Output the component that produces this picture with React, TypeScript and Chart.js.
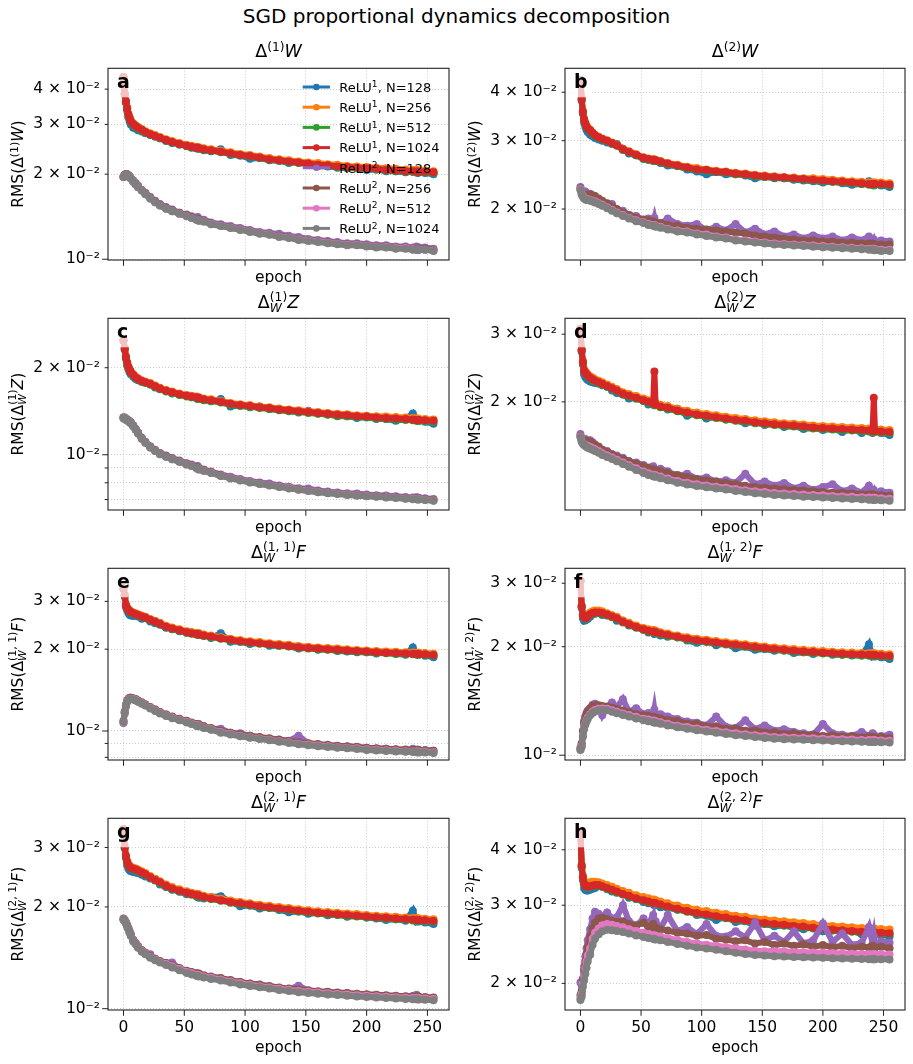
import React, { useEffect, useRef } from 'react';
import { Chart, registerables } from 'chart.js';

Chart.register(...registerables);

const FONT = '"DejaVu Sans", "Liberation Sans", sans-serif';
// series values below are given in units of 1e-4
const UNIT = 1e-4;

const EPOCHS = [0, 1, 2, 3, 4, 5, 6, 8, 10, 12, 15, 18, 22, 26, 30, 35, 40, 46, 52, 56, 60, 61, 62, 66, 72, 80, 88, 96, 104, 112, 120, 128, 136, 144, 152, 160, 168, 176, 184, 192, 200, 208, 216, 224, 232, 238, 241, 242, 243, 248, 255];

const SERIES_NAMES = ['ReLU¹, N=128', 'ReLU¹, N=256', 'ReLU¹, N=512', 'ReLU¹, N=1024', 'ReLU², N=128', 'ReLU², N=256', 'ReLU², N=512', 'ReLU², N=1024'];
const LEGEND_ACT = ['1', '1', '1', '1', '2', '2', '2', '2'];
const LEGEND_N = ['128', '256', '512', '1024', '128', '256', '512', '1024'];
const COLORS = ['#1f77b4', '#ff7f0e', '#2ca02c', '#d62728', '#9467bd', '#8c564b', '#e377c2', '#7f7f7f'];
const X_TICKS = [0, 50, 100, 150, 200, 250];
const X_MIN = -12.75;
const X_MAX = 267.75;

// ---------- panel a ----------
const A_R1_128 = [440,383,358,336,318,308,300, 292,290,286,283,279,275,272,268,262,258,255,252,248, 247,249,246,243, 241,245,234,233,227,228,224,223,219,221,216, 214,213,211,210,210,207,208,205,205,203, 204,203,202,203,202,200];
const A_R1_256 = [441,386,364,345,328,318,310, 303,298,294,289,284,279,275,271,266,262,258,254,252, 250,249,249,247, 245,242,239,236,234,231,228,226,224,222,220, 219,217,216,214,213,212,211,210,209,208, 207,207,207,206,206,205];
const A_R1_512 = [441,384,360,340,323,314,306, 299,294,290,285,281,276,272,268,263,259,255,251,249, 247,247,246,244, 242,239,236,233,231,228,225,223,221,219,217, 215,214,212,211,210,209,208,206,205,204, 204,204,203,203,203,202];
const A_R1_1024 = [442,385,362,342,325,316,308, 301,296,292,287,282,277,273,269,264,260,256,252,250, 248,248,247,245, 243,240,237,234,232,229,226,224,222,220,218, 216,215,213,212,211,210,209,207,206,205, 205,205,204,204,204,203];
const A_R2_128 = [195,199,200,200,198,197,194, 190,186,182,176,172,166,161,157,153,150,146,144,142, 140,141,139,138, 135,133,131,129,127,125,124,123,121,120,118, 117,116,115,114,114,113,112,112,111,111, 110,111,110,110,110,109];
const A_R2_256 = [196,199,200,200,198,196,194, 189,185,181,176,171,165,160,156,152,149,146,143,141, 139,139,138,137, 134,132,130,128,126,124,123,121,120,118,117, 116,115,114,113,113,112,111,111,110,110, 109,109,109,109,109,108];
const A_R2_512 = [196,198,199,199,197,195,193, 188,184,180,175,170,164,159,155,151,148,145,142,140, 138,138,137,136, 133.5,131.5,129.5,127.5,125.5,123.5,122.5,120.5,119.5,117.5,116.5, 115.5,114.5,113.5,112.5,112.5,111.5,110.5,110.5,109.5,109.5, 108.5,108,108,108,108,107.5];
const A_R2_1024 = [196,198,199,199,197,195,193, 188,184,180,175,170,164,159,155,151,148,145,142,140, 138,138,137,136, 133,131,129,127,125,123,122,120,119,117,116, 115,114,113,112,112,111,110,110,109,109, 108,108,108,108,108,107];

// ---------- panel b ----------
const B_R1_128 = [428,380,352,334,326,320,316, 311,308,305,302,300,297,294,294,286,278,275,269,268, 266,268,266,263, 259,258,253,250,246,249,246,246,244,240,242, 240,240,238,237,236,234,235,233,231,232, 236,231,230,231,230,228];
const B_R1_256 = [431,386,358,342,334,328,324, 320,315,311,307,304,301,297,293,286,282,277,272,270, 269,268,268,266, 263,260,257,255,253,251,250,248,247,245,244, 243,242,241,240,240,239,238,237,236,235, 234,234,234,234,234,233];
const B_R1_512 = [430,383,355,339,331,326,322, 318,313,309,305,302,299,295,291,284,280,275,270,268, 267,266,266,264, 261,258,255,252,251,249,248,246,245,243,242, 241,240,239,238,237,236,235,234,233,232, 231,231,231,231,231,230];
const B_R1_1024 = [430,384,356,340,332,327,323, 319,314,310,306,303,300,296,292,285,281,276,271,269, 268,267,267,265, 262,259,256,253,252,250,249,247,246,244,243, 242,241,240,239,238,237,236,235,234,233, 232,232,232,232,232,231];
const B_R2_128 = [228,222,219,221,222,220,218, 219,215,214,211,209,206,206,199,198,193,192,187,189, 185,190,184,183, 189,183,181,183,176,180,176,183,174,178,172, 175,170,172,168,171,168,170,166,169,166, 170,165,167,164,166,165];
const B_R2_256 = [226,220,217,216,216,217,218, 218,217,216,213,210,207,203,200,196,193,190,188,187, 186,185,185,184, 182,181,179,178,177,176,175,174,173,171,170, 169,168,167,166,166,165,165,164,164,163, 163,163,162,162,162,162];
const B_R2_512 = [225,219,216,214,213,212,212, 211,210,209,207,205,202,199,196,193,190,187,185,183, 182,182,181,180, 178,176,175,173,172,170,169,167,166,165,164, 163,162.5,162,161.5,161,160.5,160,159.5,159,158.5, 158,158,158,157.5,157,157];
const B_R2_1024 = [224,218,215,213,212,211,211, 210,209,208,206,204,201,198,195,192,189,186,184,182, 181,181,180,179, 177,175,174,172,170.5,169,168,166,165,164,163, 162,161.5,161,160.5,160,159.5,159,158.5,158,157.5, 157,157,157,156.5,156,156];

// ---------- panel c ----------
const C_R1_128 = [248,231,215,204,198,193,190, 186,183,181,179,178,175,171,169,167,163,162,160,158, 157,156,156,155, 153,156,147,148,146,147,144,143,142,140,142, 139,138,136,136,134,135,133,133,131,133, 139,132,131,131,130,128];
const C_R1_256 = [249,234,219,209,202,198,194, 190,186,184,181,179,177,173.5,170.5,167.5,165.5,163,161,160, 159,158.5,158,156.5, 155.5,153.5,151,149.5,148.5,147,146,144.5,143.5,142.5,141.5, 140.5,139.5,138.5,138,137,136.5,136,135.5,135,134.5, 134,133.5,133.5,133,133,132.5];
const C_R1_512 = [249,232,217,207,200,196,192, 188,184,182,179,177,175,171.5,168.5,165.5,163.5,161,159,158, 157,156.5,156,154.5, 153.5,151.5,149,147.5,146.5,145,144,142.5,141.5,140.5,139.5, 138.5,137.5,136.5,136,135,134.5,133.5,133,132.5,132, 131.5,131,131,131,130.5,130];
const C_R1_1024 = [249,233,218,208,201,197,193, 189,185,183,180,178,176,172.5,169.5,166.5,164.5,162,160,159, 158,157.5,157,155.5, 154.5,152.5,150,148.5,147.5,146,145,143.5,142.5,141.5,140.5, 139.5,138.5,137.5,137,136,135.5,134.5,134,133.5,133, 132.5,132,132,132,131.5,131];
const C_R2_128 = [133.5,134.5,133.5,132.5,131.5,130.5,129.5, 126.5,123,119.5,114.5,111,107,104,101.5,99.5,97.5,95.5,93.5,92.5, 91,91.5,90,89, 87.5,85.5,84,82.5,81.2,80.2,79.5,78.3,77.5,76.6,76.5, 75.2,74.6,74.1,73.6,73.4,72.8,72.5,72.3,71.8,71.4, 71.2,71.3,71,71,70.7,70.3];
const C_R2_256 = [134.5,133.5,132.5,132,131,130,129, 126,122.5,119,114,110.5,106.5,103.5,101,99,97,95,93,92, 90.5,90,89.5,88.5, 87,85,83.3,82,80.7,79.7,78.7,77.8,77,76.1,75.4, 74.7,74.1,73.6,73.1,72.7,72.3,72,71.6,71.3,70.9, 70.7,70.6,70.5,70.5,70.2,69.8];
const C_R2_512 = [134.5,133.5,132.5,131.5,130.5,129.5,128.5, 125.5,122,118.5,113.5,110,106,103,100.5,98.5,96.5,94.5,92.5,91.5, 90,89.5,89,88, 86.6,84.6,83,81.6,80.4,79.4,78.4,77.5,76.7,75.8,75.1, 74.4,73.8,73.3,72.8,72.4,72,71.7,71.3,71,70.6, 70.4,70.3,70.2,70.2,69.9,69.5];
const C_R2_1024 = [134.5,133.5,132.5,131.5,130.5,129.5,128.5, 125.5,122,118.5,113.5,110,106,103,100.5,98.5,96.5,94.5,92.5,91.5, 90,89.5,89,88, 86.5,84.5,82.8,81.5,80.2,79.2,78.2,77.3,76.5,75.6,74.9, 74.2,73.6,73.1,72.6,72.2,71.8,71.5,71.1,70.8,70.4, 70.2,70.1,70,70,69.7,69.3];

// ---------- panel d ----------
const D_R1_128 = [308,270,250,236,232,230,228, 226,225,224,223,221,219,214,211,209,204,204,201,197, 198,196,197,195, 191,192,184,187,181,183,180,179,176,178,174, 176,172,173,170,171,169,170,167,170,166, 169,166,167,168,166,164];
const D_R1_256 = [310,274,256,243,240,238,236, 233,231,229,227,225,222,219,216,212,209.5,207,204,202, 200,199.5,199,196.5, 195,192,189.5,187.5,186,184.5,183,181.5,180.5,179,178, 177,176,175.5,174.5,173.5,173,172.5,172,171.5,171, 170.5,170,170,170,169.5,169];
const D_R1_512 = [309,272,253,240,237,235,233, 230,228,226,224,222,219,216,213,209,206.5,204,201,199, 197,196.5,196,193.5, 192,189,186.5,184.5,183,181.5,180,178.5,177.5,176,175, 174,173,172.5,171.5,170.5,170,169.5,169,168.5,168, 167.5,167,167,167,166.5,166];
const D_R1_1024 = [310,273,254,241,238,236,234, 231,229,227,225,223,220,217,214,210,207.5,205,202,200, 198,240,197,194.5, 193,190,187.5,185.5,184,182.5,181,179.5,178.5,177,176, 175,174,173.5,172.5,171.5,171,170.5,170,169.5,169, 168.5,168,205,168,167.5,167];
const D_R2_128 = [165,160,158,159,160,158,157, 159,157,155,153,150,149,146,145,143,140,139,137,135, 136,133,132,134, 132,128,130,126,127,124,125,123,130,122,124, 121,123,119,121,118,120,122,117,119,116, 121,117,118,116,117,116];
const D_R2_256 = [163,159,157,157,158,158.5,158, 157.5,156,154.5,152.5,150,148,146,144,142,140,138,136,134.5, 133.5,133,133,132, 130.5,129,127.5,126,125,124,123,122,121,120,119.5, 119,118.5,118,117.5,117,116.5,116,116,115.5,115, 115,115,114.5,114.5,114.3,114];
const D_R2_512 = [162.5,158,156,155,154.5,154,153.5, 152.5,151.5,150.5,149,147,145,143.3,141.3,139,136.8,134.3,131.8,130.3, 129.3,129,128.8,127.8, 126.3,124.5,123.1,122,121.1,120.3,119.5,118.6,117.8,117,116.5, 115.9,115.5,115.1,114.7,114.4,114.2,113.8,113.5,113.2,112.9, 112.7,112.6,112.6,112.5,112.3,111.9];
const D_R2_1024 = [162,157.5,155.5,154.5,153.5,152.8,152, 151,150,149,147.5,145.5,143.8,142,140,137.8,135.5,133,130.5,129, 128,127.8,127.6,126.5, 125,123.2,121.8,120.7,119.8,119,118.2,117.3,116.5,115.6,115.1, 114.5,114.1,113.7,113.3,113,112.8,112.4,112.1,111.8,111.5, 111.3,111.2,111.2,111.1,110.9,110.5];

// ---------- panel e ----------
const E_R1_128 = [333,312,286,278,272,268,266, 265,266,264,259,260,253,249,246,240,237,233,230,231, 228,227,229,226, 220,229,213,213,209,211,206,206,205,201,203, 199,200,197,196,195,195,193,194,192,191, 203,192,191,192,189,187];
const E_R1_256 = [335,317,292,285,280.5,278,276, 273,271,269,266,263.5,258.5,254.5,250,244,240.5,237,233,231, 229.5,229,228.5,226.5, 224.5,221.5,218.5,216,214,212.5,210.5,209,207.5,205.5,204, 203,202,201,199.8,198.8,198,197,196.2,195.6,195, 194.5,194.2,194.1,194,193.5,192.5];
const E_R1_512 = [334,315,289,282,277.5,275,273, 270,268,266,263,260.5,255.5,251.5,247,241,237.5,234,230,228, 226.5,226,225.5,223.5, 221.5,218.5,215.5,213,211,209.5,207.5,206,204.5,202.5,201, 200,199,198,196.8,195.8,195,194,193.2,192.6,192, 191.5,191.2,191.1,191,190.5,189.5];
const E_R1_1024 = [335,316,290,283,278.5,276,274, 271,269,267,264,261.5,256.5,252.5,248,242,238.5,235,231,229, 227.5,227,226.5,224.5, 222.5,219.5,216.5,214,212,210.5,208.5,207,205.5,203.5,202, 201,200,199,197.8,196.8,196,195,194.2,193.6,193, 192.5,192.2,192.1,192,191.5,190.5];
const E_R2_128 = [107,116,123,128,131,132,132.5, 131,130,129,127,125,122,120,117,115,112.5,110.5,108.5,107, 106,105.5,106,104, 102,102,98.5,98,96,94.5,93.5,93,92,96,90, 89,88.5,88,87.5,87.5,86.5,86,86,85.5,85, 86,85,85.5,85,85,84.5];
const E_R2_256 = [109,118,125,129.5,131.5,132.5,132.5, 132,131,129.5,127.5,125.5,122.5,120,117.5,115,113,111,109,107.5, 106,105.7,105.5,104, 102.5,100.2,98.6,97.2,96,95,94,92.8,91.9,90.9,90.2, 89.5,88.9,88.3,87.9,87.4,86.8,86.4,86,85.7,85.4, 85.2,85.1,85.1,85,84.9,84.6];
const E_R2_512 = [108,117,124,128.5,130.5,131.5,131.5, 131,130,128.5,126.5,124.5,121.5,119,116.5,114,112,110,108,106.5, 105,104.7,104.5,103, 101.5,99.1,97.5,96.1,94.9,93.9,92.9,91.7,90.8,89.8,89.1, 88.4,87.8,87.2,86.8,86.3,85.7,85.3,84.9,84.6,84.3, 84.1,84,84,83.9,83.8,83.5];
const E_R2_1024 = [108,117,124,128,130,131,131, 130.5,129.5,128,126,124,121,118.5,116,113.5,111.5,109.5,107.5,106, 104.5,104.2,104,102.5, 101,98.6,97,95.6,94.4,93.4,92.4,91.2,90.3,89.3,88.6, 87.9,87.3,86.7,86.3,85.8,85.2,84.8,84.4,84.1,83.8, 83.6,83.5,83.5,83.4,83.3,83];

// ---------- panel f ----------
const F_R1_128 = [303,256,240,236,237,238,239, 242,246,247,250,245,244,244,236,236,229,226,224,219, 221,217,218,215, 213,214,208,205,207,202,204,198,200,196,197, 195,196,192,193,191,193,190,190,189,189, 203,188,189,188,187,185];
const F_R1_256 = [305,260,246,243,243,244,246, 249,251,252,252,251,247.5,244.5,242,236.5,233,229,225.5,223.5, 222.5,222,221.5,219.5, 217.5,215,212.5,210.5,209,207.5,205.8,204.5,203.2,201.5,200.3, 199,198,197,196,195.2,194.5,193.8,193.1,192.7,192.2, 191.9,191.7,191.7,191.6,191.2,190.5];
const F_R1_512 = [304,258,244,240,239,240,242, 245,247,248,248,247,244.5,241.5,239,233.5,230,226,222.5,220.5, 219.5,219,218.5,216.5, 214.5,212,209.5,207.5,206,204.5,202.8,201.5,200.2,198.5,197.3, 196,195,194,193,192.2,191.5,190.8,190.1,189.7,189.2, 188.9,188.7,188.7,188.6,188.2,187.5];
const F_R1_1024 = [305,259,245,241,240,241,243, 246,248,249,249,248,245.5,242.5,240,234.5,231,227,223.5,221.5, 220.5,220,219.5,217.5, 215.5,213,210.5,208.5,207,205.5,203.8,202.5,201.2,199.5,198.3, 197,196,195,194,193.2,192.5,191.8,191.1,190.7,190.2, 189.9,189.7,189.7,189.6,189.2,188.5];
const F_R2_128 = [105,107,116,124,128,131,133, 135,138,139,137,129,136,140,136,143,132,135,130,131, 128,134,127,130, 128,126,124,123,121,128,120,119,125,118,121, 117,118,116,115,114,122,115,114,113,116, 113,115,114,113,113,114];
const F_R2_256 = [104,108,117,123,127,130,132, 135,137,137.5,137.5,137,136.5,135.5,134.5,133,131.5,130,129,128.5, 127.8,127.5,127.3,126.5, 125.3,124.5,122.3,122.2,120.2,120.4,118.3,118.6,117,117.2,115.6, 115.8,114.6,115,113.8,114.2,113.1,113.6,112.5,113,112, 112.7,111.9,112.4,111.8,112.3,111.5];
const F_R2_512 = [103.8,106,113.5,119,122.5,125,127, 130,132,133.5,134.5,134.7,134.5,133.3,132,130.6,129.3,127.8,126.3,125.6, 124.8,124.6,124.3,123.5, 122.3,120.8,119.7,118.6,117.6,116.7,115.8,115,114.3,113.6,113, 112.4,112.1,111.9,111.7,111.4,111.1,110.9,110.7,110.5,110.3, 110.2,110.1,110.1,110.1,109.9,109.7];
const F_R2_1024 = [103.4,105.6,112.6,118,121.5,124,126, 129,131,132.3,133.3,133.5,133.3,132,130.8,129.3,128,126.5,125,124.3, 123.5,123.3,123,122.2, 121,119.5,118.4,117.3,116.3,115.4,114.5,113.7,113,112.3,111.7, 111.1,110.8,110.6,110.4,110.1,109.8,109.6,109.4,109.2,109, 108.9,108.8,108.8,108.8,108.6,108.4];

// ---------- panel g ----------
const G_R1_128 = [338,298,279,266,260,257,255, 254,253,252,249,246,243,242,233,229,225,222,218,220, 215,214,213,212, 214,215,207,201,202,198,199,196,193,194,191, 192,189,190,187,188,186,185,183,184,182, 195,181,182,181,180,178];
const G_R1_256 = [340,302,284,274,268,265,263, 261.5,260,258,255,252,247,242.5,238.5,233,229,225.5,222.5,220.5, 219,218.5,218,216, 214,211.5,209,207,205,203,201.5,200,198.5,197,195.5, 194.3,193.3,192.4,191.4,190.5,189.3,188.5,187.7,187,186.2, 185.5,185.2,185.1,185,184.6,183.8];
const G_R1_512 = [339,300,282,271,265,262,260, 258.5,257,255,252,249,244,239.5,235.5,230,226,222.5,219.5,217.5, 216,215.5,215,213, 211,208.5,206,204,202,200,198.5,197,195.5,194,192.5, 191.3,190.3,189.4,188.4,187.5,186.3,185.5,184.7,184,183.2, 182.5,182.2,182.1,182,181.6,180.8];
const G_R1_1024 = [340,301,283,272,266,263,261, 259.5,258,256,253,250,245,240.5,236.5,231,227,223.5,220.5,218.5, 217,216.5,216,214, 212,209.5,207,205,203,201,199.5,198,196.5,195,193.5, 192.3,191.3,190.4,189.4,188.5,187.3,186.5,185.7,185,184.2, 183.5,183.2,183.1,183,182.6,181.8];
const G_R2_128 = [183,182,180,177,173,169,166, 160,156,152,149,146,145,140,138,136.5,137,131,129,128, 127,126,127,125, 124,123,121,120,118,118,116,115,114,117,113, 112,112,111,111,110,110,109,109,108.5,108.5, 109,110,108,108,108,107.5];
const G_R2_256 = [185,183,180,176.5,173,169,165.5, 159.5,156.5,153,149,146.5,143,140.5,138.5,136.5,134.5,132,129.5,128.3, 127.2,127,126.6,125.6, 124.5,123.2,121.5,120,118.7,117.7,116.7,115.6,114.8,113.9,113.3, 112.7,112.2,111.7,111.2,110.7,110.3,109.9,109.5,109.2,108.9, 108.7,108.6,108.6,108.5,108.2,107.9];
const G_R2_512 = [184,182,179,175.5,172,168,164.5, 158.5,155.5,152,148,145.5,142,139.5,137.5,135.5,133.5,131,128.5,127.2, 126.1,125.9,125.5,124.5, 123.4,122.1,120.4,118.9,117.6,116.6,115.6,114.5,113.7,112.8,112.2, 111.6,111.1,110.6,110.1,109.6,109.2,108.8,108.4,108.1,107.8, 107.6,107.5,107.5,107.4,107.1,106.8];
const G_R2_1024 = [184,182,179,175.5,172,168,164.5, 158,155,151.5,147.5,145,141.5,139,137,134.7,132.5,130,127.5,126.3, 125.2,125,124.6,123.6, 122.5,121.2,119.5,118,116.7,115.7,114.7,113.6,112.8,111.9,111.3, 110.7,110.2,109.7,109.2,108.7,108.3,107.9,107.5,107.2,106.9, 106.7,106.6,106.6,106.5,106.2,105.9];

// ---------- panel h ----------
const H_R1_128 = [436,364,342,328,325,324,324, 325,327,328,331,330,326,322,320,318,312,310,305,303, 302,300,301,297, 296,293,292,285,284,278,282,275,276,270,272, 269,270,267,265,268,262,263,261,263,258, 265,259,260,257,258,255];
const H_R1_256 = [440,370,350,340,337,337,337, 338,339,339,338,336,333,330,327,323,320,316,313,311, 309,308.5,308,306, 303,299.5,296,293,291,288.5,286.5,284,282.5,280,278.5, 277,276,274.5,273.5,272,270.5,269.5,268.5,267.5,266.5, 266,265.7,265.6,265.5,265.2,264.5];
const H_R1_512 = [439,367,346,335,331,330,329, 330,331,332,332,330,327,324,321,317,314,310,307,305, 303,302.5,302,300, 297,293.5,290,287,285,282.5,280.5,278,276.5,274,272.5, 271,270,268.5,267.5,266,264.5,263.5,262.5,261.5,260.5, 260,259.7,259.6,259.5,259.2,258.5];
const H_R1_1024 = [440,368,347,336,332,331,330, 331,332,333,333,331,328,325,322,318,315,311,308,306, 304,303.5,303,301, 298,294.5,291,288,286,283.5,281.5,279,277.5,275,273.5, 272,271,269.5,268.5,267,265.5,264.5,263.5,262.5,261.5, 261,260.7,260.6,260.5,260.2,259.5];
const H_R2_128 = [201,190,205,218,230,240,250, 265,280,290,287,283,289,280,282,300,276,270,280,272, 285,270,276,266, 285,262,268,258,272,256,255,262,254,274,250, 256,248,262,246,250,273,248,259,244,247, 268,246,255,242,249,247];
const H_R2_256 = [188,192,204,214,224,233,241, 255,266,274,280,281,279,276,275,276,272,270,274,268, 272,266,267,265, 263,260,259,256,257,252,251,249,250,246,248, 244,246,243,245,242,244,241,243,240,242, 241,243,240,241,242,240];
const H_R2_512 = [185,189,200,208,216,224,231, 240,252,260,266,270,272,271,269.5,267.5,265,262.5,260,258.5, 257,256.5,256,255, 253,250.5,248,246,244.5,243,241.5,240,238.5,237,236.3, 236.5,236,235.5,235,234.7,234.4,234,233.6,233.2,233, 232.8,232.7,232.7,232.6,232.5,232.3];
const H_R2_1024 = [183.5,186.6,196.5,203,210,217,224, 232,244,252,258,262,264,263.5,262.5,261,259,256.5,254.5,253, 252,251.5,251,250, 248,245.5,243,241,239.7,238,236.3,234.5,233,231.7,231, 230.3,229.8,229.3,228.9,228.6,228.4,228,227.6,227.2,227, 226.8,226.8,226.8,226.7,226.6,226.4];

// ---------- y axes: tick values, tick labels, ranges ----------
const A_TICKS = [0.01, 0.02, 0.03, 0.04];
const A_TICK_LABELS = ['10⁻²', '2 × 10⁻²', '3 × 10⁻²', '4 × 10⁻²'];
const A_YRANGE = [0.00994, 0.0474];
const B_TICKS = [0.02, 0.03, 0.04];
const B_TICK_LABELS = ['2 × 10⁻²', '3 × 10⁻²', '4 × 10⁻²'];
const B_YRANGE = [0.01478, 0.0461];
const C_TICKS = [0.007, 0.008, 0.009, 0.01, 0.02];
const C_TICK_LABELS = ['', '', '', '10⁻²', '2 × 10⁻²'];
const C_YRANGE = [0.00644, 0.02965];
const D_TICKS = [0.02, 0.03];
const D_TICK_LABELS = ['2 × 10⁻²', '3 × 10⁻²'];
const D_YRANGE = [0.01046, 0.033];
const E_TICKS = [0.008, 0.009, 0.01, 0.02, 0.03];
const E_TICK_LABELS = ['', '', '10⁻²', '2 × 10⁻²', '3 × 10⁻²'];
const E_YRANGE = [0.00782, 0.0397];
const F_TICKS = [0.01, 0.02, 0.03];
const F_TICK_LABELS = ['10⁻²', '2 × 10⁻²', '3 × 10⁻²'];
const F_YRANGE = [0.0097, 0.033];
const G_TICKS = [0.01, 0.02, 0.03];
const G_TICK_LABELS = ['10⁻²', '2 × 10⁻²', '3 × 10⁻²'];
const G_YRANGE = [0.00991, 0.0366];
const H_TICKS = [0.02, 0.03, 0.04];
const H_TICK_LABELS = ['2 × 10⁻²', '3 × 10⁻²', '4 × 10⁻²'];
const H_YRANGE = [0.01742, 0.0471];

type Seg = { t: string; it?: boolean; sup?: string; sub?: string };

const TITLE_A: Seg[] = [{ t: 'Δ', sup: '(1)' }, { t: 'W', it: true }];
const TITLE_B: Seg[] = [{ t: 'Δ', sup: '(2)' }, { t: 'W', it: true }];
const TITLE_C: Seg[] = [{ t: 'Δ', sup: '(1)', sub: 'W' }, { t: 'Z', it: true }];
const TITLE_D: Seg[] = [{ t: 'Δ', sup: '(2)', sub: 'W' }, { t: 'Z', it: true }];
const TITLE_E: Seg[] = [{ t: 'Δ', sup: '(1, 1)', sub: 'W' }, { t: 'F', it: true }];
const TITLE_F: Seg[] = [{ t: 'Δ', sup: '(1, 2)', sub: 'W' }, { t: 'F', it: true }];
const TITLE_G: Seg[] = [{ t: 'Δ', sup: '(2, 1)', sub: 'W' }, { t: 'F', it: true }];
const TITLE_H: Seg[] = [{ t: 'Δ', sup: '(2, 2)', sub: 'W' }, { t: 'F', it: true }];

type Panel = {
  letter: string;
  title: Seg[];
  series: number[][];
  ticks: number[];
  tickLabels: string[];
  yRange: number[];
};

const PANELS: Panel[] = [
  { letter: 'a', title: TITLE_A, series: [A_R1_128, A_R1_256, A_R1_512, A_R1_1024, A_R2_128, A_R2_256, A_R2_512, A_R2_1024], ticks: A_TICKS, tickLabels: A_TICK_LABELS, yRange: A_YRANGE },
  { letter: 'b', title: TITLE_B, series: [B_R1_128, B_R1_256, B_R1_512, B_R1_1024, B_R2_128, B_R2_256, B_R2_512, B_R2_1024], ticks: B_TICKS, tickLabels: B_TICK_LABELS, yRange: B_YRANGE },
  { letter: 'c', title: TITLE_C, series: [C_R1_128, C_R1_256, C_R1_512, C_R1_1024, C_R2_128, C_R2_256, C_R2_512, C_R2_1024], ticks: C_TICKS, tickLabels: C_TICK_LABELS, yRange: C_YRANGE },
  { letter: 'd', title: TITLE_D, series: [D_R1_128, D_R1_256, D_R1_512, D_R1_1024, D_R2_128, D_R2_256, D_R2_512, D_R2_1024], ticks: D_TICKS, tickLabels: D_TICK_LABELS, yRange: D_YRANGE },
  { letter: 'e', title: TITLE_E, series: [E_R1_128, E_R1_256, E_R1_512, E_R1_1024, E_R2_128, E_R2_256, E_R2_512, E_R2_1024], ticks: E_TICKS, tickLabels: E_TICK_LABELS, yRange: E_YRANGE },
  { letter: 'f', title: TITLE_F, series: [F_R1_128, F_R1_256, F_R1_512, F_R1_1024, F_R2_128, F_R2_256, F_R2_512, F_R2_1024], ticks: F_TICKS, tickLabels: F_TICK_LABELS, yRange: F_YRANGE },
  { letter: 'g', title: TITLE_G, series: [G_R1_128, G_R1_256, G_R1_512, G_R1_1024, G_R2_128, G_R2_256, G_R2_512, G_R2_1024], ticks: G_TICKS, tickLabels: G_TICK_LABELS, yRange: G_YRANGE },
  { letter: 'h', title: TITLE_H, series: [H_R1_128, H_R1_256, H_R1_512, H_R1_1024, H_R2_128, H_R2_256, H_R2_512, H_R2_1024], ticks: H_TICKS, tickLabels: H_TICK_LABELS, yRange: H_YRANGE },
];

// ---------- layout ----------
const COL_X = [0, 456];
const COL_W = [456, 457];
const ROW_Y = [30, 280, 530, 780];
const ROW_H = [258, 258, 258, 284];
const PLOT_LEFT = [108, 109];
const PLOT_RIGHT = [449, 449];
const PLOT_TOP = 38.3;
const PLOT_BOTTOM = 230;

function fontStr(size: number, italic = false, bold = false) {
  return `${italic ? 'italic ' : ''}${bold ? 'bold ' : ''}${size}px ${FONT}`;
}

function segWidth(ctx: CanvasRenderingContext2D, s: Seg, size: number) {
  ctx.font = fontStr(size, !!s.it);
  const w = ctx.measureText(s.t).width;
  const ss = size * 0.7;
  let sw = 0;
  if (s.sup) {
    ctx.font = fontStr(ss);
    sw = ctx.measureText(s.sup).width;
  }
  if (s.sub) {
    ctx.font = fontStr(ss, true);
    sw = Math.max(sw, ctx.measureText(s.sub).width);
  }
  return w + sw;
}

function drawMath(ctx: CanvasRenderingContext2D, segs: Seg[], x: number, y: number, size: number, align: 'center' | 'left') {
  const total = segs.reduce((acc, s) => acc + segWidth(ctx, s, size), 0);
  let cx = align === 'center' ? x - total / 2 : x;
  ctx.textAlign = 'left';
  ctx.textBaseline = 'alphabetic';
  ctx.fillStyle = '#000';
  for (const s of segs) {
    ctx.font = fontStr(size, !!s.it);
    ctx.fillText(s.t, cx, y);
    const w = ctx.measureText(s.t).width;
    const ss = size * 0.7;
    let sw = 0;
    if (s.sup) {
      ctx.font = fontStr(ss);
      ctx.fillText(s.sup, cx + w, y - size * (s.sub ? 0.44 : 0.34));
      sw = ctx.measureText(s.sup).width;
    }
    if (s.sub) {
      ctx.font = fontStr(ss, true);
      ctx.fillText(s.sub, cx + w, y + size * 0.2);
      sw = Math.max(sw, ctx.measureText(s.sub).width);
    }
    cx += w + sw;
  }
}

function isDecade(v: number) {
  const l = Math.log10(v);
  return Math.abs(l - Math.round(l)) < 1e-9;
}

function drawLegend(ctx: CanvasRenderingContext2D, a: any) {
  for (let i = 0; i < 8; i++) {
    const y = a.top + 18.7 + i * 20.2;
    const x1 = a.right - 146.3;
    const x2 = a.right - 119;
    ctx.setLineDash([]);
    ctx.strokeStyle = COLORS[i];
    ctx.lineWidth = 3;
    ctx.beginPath();
    ctx.moveTo(x1, y);
    ctx.lineTo(x2, y);
    ctx.stroke();
    ctx.fillStyle = COLORS[i];
    ctx.beginPath();
    ctx.arc((x1 + x2) / 2, y, 3.3, 0, Math.PI * 2);
    ctx.fill();
    drawMath(ctx, [{ t: 'ReLU', sup: LEGEND_ACT[i] }, { t: ', N=' + LEGEND_N[i] }], a.right - 109.7, y + 4.7, 13, 'left');
  }
}

function makeDeco(panel: Panel, isBottom: boolean, withLegend: boolean) {
  const hasSub = panel.title.some((s) => !!s.sub);
  return {
    id: 'panelDeco',
    afterDatasetsDraw(chart: any) {
      const ctx: CanvasRenderingContext2D = chart.ctx;
      const a = chart.chartArea;
      const xs = chart.scales.x;
      const ys = chart.scales.y;
      ctx.save();
      // panel letter with translucent white box
      ctx.fillStyle = 'rgba(255,255,255,0.72)';
      ctx.fillRect(a.left + 2, a.top + 2, 24, 27);
      ctx.fillStyle = '#000';
      ctx.font = fontStr(19, false, true);
      ctx.textAlign = 'left';
      ctx.textBaseline = 'alphabetic';
      ctx.fillText(panel.letter, a.left + 9, a.top + 19.5);
      if (withLegend) drawLegend(ctx, a);
      // frame
      ctx.setLineDash([]);
      ctx.strokeStyle = '#222';
      ctx.lineWidth = 1.1;
      ctx.strokeRect(a.left, a.top, a.right - a.left, a.bottom - a.top);
      // tick marks
      ctx.lineWidth = 1;
      ctx.beginPath();
      for (const v of X_TICKS) {
        const px = xs.getPixelForValue(v);
        ctx.moveTo(px, a.bottom);
        ctx.lineTo(px, a.bottom + 5.8);
      }
      for (const v of panel.ticks) {
        const py = ys.getPixelForValue(v);
        const len = isDecade(v) ? 5.8 : 3.3;
        ctx.moveTo(a.left, py);
        ctx.lineTo(a.left - len, py);
      }
      ctx.stroke();
      // title
      drawMath(ctx, panel.title, (a.left + a.right) / 2, a.top - (hasSub ? 10 : 11), 17.5, 'center');
      // y label
      ctx.save();
      ctx.translate(a.left - 90.5, (a.top + a.bottom) / 2);
      ctx.rotate(-Math.PI / 2);
      drawMath(ctx, [{ t: 'RMS(' }, ...panel.title, { t: ')' }], 0, 5.6, 15.5, 'center');
      ctx.restore();
      // x label
      ctx.font = fontStr(15.5);
      ctx.fillStyle = '#000';
      ctx.textAlign = 'center';
      ctx.textBaseline = 'alphabetic';
      ctx.fillText('epoch', (a.left + a.right) / 2, a.bottom + (isBottom ? 41.5 : 21.5));
      ctx.restore();
    },
  };
}

function PanelChart({ panel, index }: { panel: Panel; index: number }) {
  const ref = useRef<HTMLCanvasElement>(null);
  const col = index % 2;
  const row = Math.floor(index / 2);
  const W = COL_W[col];
  const H = ROW_H[row];
  const isBottom = row === 3;

  useEffect(() => {
    const canvas = ref.current;
    if (!canvas) return;
    const gridColor = 'rgba(176,176,176,0.65)';
    const chart = new Chart(canvas, {
      type: 'line',
      data: {
        datasets: panel.series.map((arr, i) => ({
          label: SERIES_NAMES[i],
          data: EPOCHS.map((e, k) => ({ x: e, y: arr[k] * UNIT })),
          borderColor: COLORS[i],
          backgroundColor: COLORS[i],
          pointBackgroundColor: COLORS[i],
          pointBorderWidth: 0,
          pointRadius: 4,
          pointHoverRadius: 4,
          borderWidth: 6,
          tension: 0,
          fill: false,
          order: 8 - i,
          clip: 0,
        })),
      },
      options: {
        responsive: false,
        maintainAspectRatio: false,
        animation: false,
        devicePixelRatio: 1,
        events: [],
        layout: { padding: { left: 0, top: PLOT_TOP, right: W - PLOT_RIGHT[col], bottom: 0 } },
        plugins: { legend: { display: false }, tooltip: { enabled: false }, title: { display: false } },
        scales: {
          x: {
            type: 'linear',
            min: X_MIN,
            max: X_MAX,
            afterBuildTicks: (s: any) => {
              s.ticks = X_TICKS.map((v) => ({ value: v }));
            },
            afterFit: (s: any) => {
              s.height = H - PLOT_BOTTOM;
            },
            ticks: {
              display: isBottom,
              padding: 8.7,
              autoSkip: false,
              maxRotation: 0,
              color: '#000',
              font: { family: FONT, size: 15.5 },
              callback: (v: any) => String(v),
            },
            grid: { color: gridColor, lineWidth: 1, drawTicks: false },
            border: { display: false, dash: [1, 2] },
          },
          y: {
            type: 'logarithmic',
            min: panel.yRange[0],
            max: panel.yRange[1],
            afterBuildTicks: (s: any) => {
              s.ticks = panel.ticks.map((v) => ({ value: v }));
            },
            afterFit: (s: any) => {
              s.width = PLOT_LEFT[col];
            },
            ticks: {
              padding: 8,
              autoSkip: false,
              color: '#000',
              font: { family: FONT, size: 15.5 },
              callback: (_v: any, i: number) => panel.tickLabels[i] ?? '',
            },
            grid: { color: gridColor, lineWidth: 1, drawTicks: false },
            border: { display: false, dash: [1, 2] },
          },
        },
      } as any,
      plugins: [makeDeco(panel, isBottom, index === 0)],
    });
    return () => chart.destroy();
  }, []);

  return (
    <canvas
      ref={ref}
      width={W}
      height={H}
      style={{ position: 'absolute', left: COL_X[col], top: ROW_Y[row], width: W, height: H }}
    />
  );
}

export default function App() {
  return (
    <div style={{ position: 'absolute', left: 0, top: 0, width: 913, height: 1064, background: '#fff', overflow: 'hidden' }}>
      <div
        style={{
          position: 'absolute',
          left: 0,
          top: 4,
          width: 913,
          textAlign: 'center',
          fontFamily: FONT,
          fontSize: 20,
          lineHeight: '24px',
          color: '#000',
        }}
      >
        SGD proportional dynamics decomposition
      </div>
      {PANELS.map((p, i) => (
        <PanelChart key={p.letter} panel={p} index={i} />
      ))}
    </div>
  );
}
